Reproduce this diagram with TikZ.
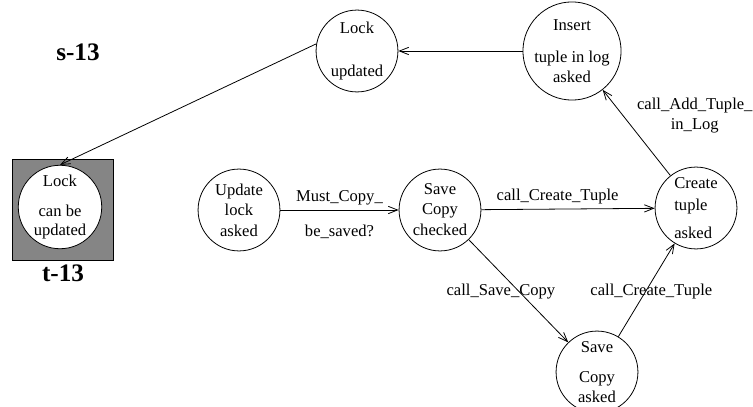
\documentclass[tikz,border=0pt]{standalone}
\usepackage{fontspec}
\setmainfont{Liberation Serif}
\usetikzlibrary{arrows.meta}
\tikzset{
  state/.style={
    circle, draw=black, line width=0.6pt, fill=white, inner sep=0pt,
    minimum size=2.17cm, align=center
  },
  marked box/.style={
    rectangle, draw=black, line width=0.6pt, fill=black!48, inner sep=0pt,
    minimum size=2.68cm
  },
  trans/.style={
    draw=black, line width=0.6pt, -{Straight Barb[length=7pt,width=5.5pt]}
  },
  big label/.style={
    font=\fontsize{19}{21}\selectfont\bfseries
  }
}

\begin{document}
\begin{tikzpicture}[x=0.0265cm, y=0.0265cm, font=\fontsize{12.5}{15}\selectfont]
  \useasboundingbox (0,0) rectangle (753,406);

% ------------------------------------------------
% marked target state with its square
% ------------------------------------------------
  \node[marked box] (lockbox) at (62.5,196.5) {};
  \node[state, minimum size=2.05cm] (lockcan) at (60,199) {Lock\\[7.6pt]can be\\updated};
  \node[big label] (s13) at (78,354) {s-13};
  \node[big label] (t13) at (63,133) {t-13};

% ------------------------------------------------
% states
% ------------------------------------------------
  \node[state] (lockupd) at (357,355) {Lock\\[17.4pt]updated};
  \node[state] (insert)  at (572,355) {Insert\\[9pt]tuple in log\\asked};
  \node[state] (updlock) at (239,196) {Update\\lock\\[1pt]asked};
  \node[state] (savechk) at (440,196) {Save\\Copy\\[1pt]checked};
  \node[state, align=left] (create) at (696,198) {Create\\[1.6pt]tuple\\[6pt]asked};
  \node[state] (saveask) at (597,34) {Save\\[7.6pt]Copy\\asked};

% ------------------------------------------------
% transitions
% ------------------------------------------------
  \draw[trans] (insert) -- (lockupd);
  \draw[trans] (lockupd.170) -- (lockcan.north);
  \draw[trans] (updlock) -- node[above] {Must\_Copy\_}
                            node[below=8pt] {be\_saved?} (savechk);
  \draw[trans] (savechk) -- node[pos=0.44, above] {call\_Create\_Tuple} (create);
  \draw[trans] (create) -- node[pos=0.7, right=7pt, align=center]
                            {call\_Add\_Tuple\_\\in\_Log} (insert);
  \draw[trans] (savechk) -- node[pos=0.51, xshift=-14pt] {call\_Save\_Copy} (saveask);
  \draw[trans] (saveask) -- node[pos=0.48, xshift=4.5pt] {call\_Create\_Tuple} (create);
\end{tikzpicture}
\end{document}
